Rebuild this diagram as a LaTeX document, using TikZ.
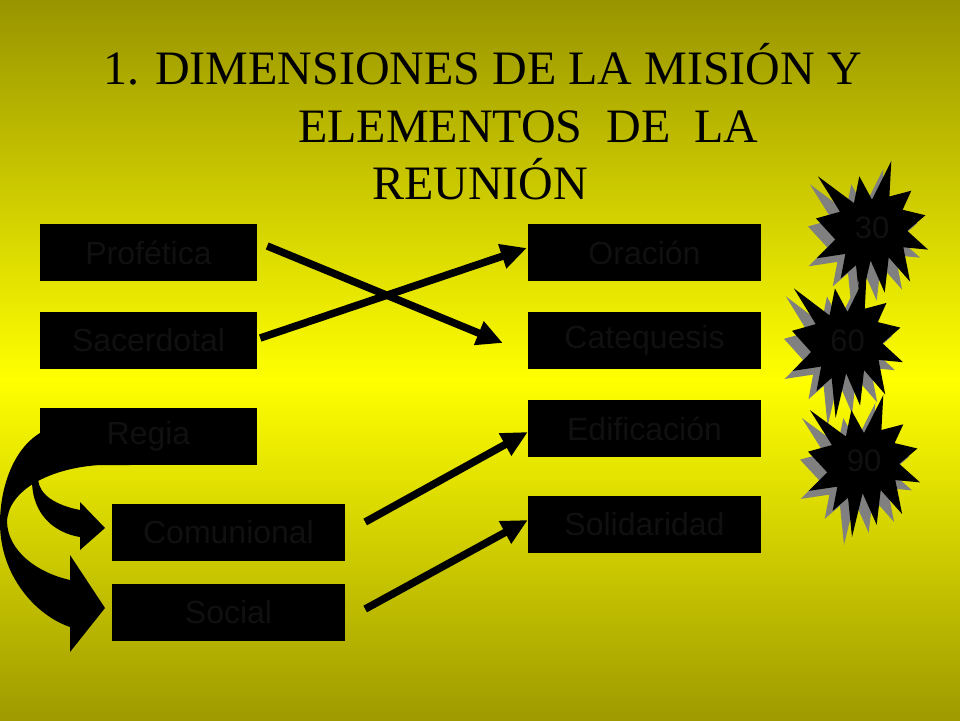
\documentclass[tikz,border=0pt]{standalone}
\usepackage{fontspec}
\setmainfont{Liberation Serif}
\newfontfamily\arialf{Liberation Sans}
\usetikzlibrary{arrows.meta}
\definecolor{oliveTop}{RGB}{152,148,0}
\definecolor{oliveBot}{RGB}{158,154,0}
\definecolor{brightY}{RGB}{255,255,0}
\definecolor{dimtext}{RGB}{16,16,16}
\definecolor{shadowgray}{RGB}{128,128,128}
\def\burstpath{(50,26.85) -- (67.23,0) -- (65.53,24.65) -- (85.09,20.63) -- (77.32,33.87) -- (97.67,37.67) -- (81.51,48.50) -- (100,61.53) -- (77.95,59.92) -- (84.00,83.77) -- (64.91,66.93) -- (61.33,91.38) -- (48.76,69.14) -- (39.28,100) -- (35.72,72.35) -- (22.05,81.56) -- (26.24,64.52) -- (0.63,67.53) -- (17.23,54.51) -- (0,39.88) -- (21.42,35.26) -- (1.71,10.63) -- (33.85,29.26) -- (38.67,10.63) -- cycle}
\newcommand{\myburst}[6]{%
  \begin{scope}[shift={(#1-8,#2+8)}, xscale=#3/100, yscale=#4/100]
    \fill[shadowgray] \burstpath;
  \end{scope}
  \begin{scope}[shift={(#1,#2)}, xscale=#3/100, yscale=#4/100]
    \fill[black] \burstpath;
  \end{scope}
  \node[startxt] (#5) at (#1+#3/2,#2+#4/2-5) {#6};
}
\tikzset{
  box/.style={fill=black, draw=none, inner sep=0pt, text=dimtext,
    font=\arialf\fontsize{32}{38}\selectfont, minimum height=57pt},
  narrowbox/.style={box, minimum width=217pt},
  widebox/.style={box, minimum width=233pt},
  startxt/.style={text=dimtext, inner sep=0pt, font=\arialf\fontsize{31}{36}\selectfont},
  titletxt/.style={anchor=base west, inner sep=0pt, font=\fontsize{48}{56}\selectfont},
  arr/.style={line width=7.5pt, -{Triangle[length=26pt,width=24pt]}},
}
\begin{document}
\begin{tikzpicture}[x=1pt,y=-1pt]
\useasboundingbox (0,0) rectangle (960,720);
\shade[top color=oliveTop, bottom color=brightY] (0,0) rectangle (960,380);
\shade[top color=brightY, bottom color=oliveBot] (0,380) rectangle (960,720);

% title
\node[titletxt] (t1) at (103,84) {1. DIMENSIONES DE LA MISIÓN Y};
\node[titletxt] (t2) at (298,142) {ELEMENTOS\ \ DE\ \ LA};
\node[titletxt] (t3) at (372,199) {REUNIÓN};

% curved block arrows from Regia
\fill[black] (100,465) .. controls (50,468) and (8,490) .. (7,522)
  .. controls (8,550) and (35,572) .. (70,580)
  -- (70,555) -- (105,608) -- (70,652) -- (70,627)
  .. controls (35,615) and (0,575) .. (0,523)
  .. controls (0,490) and (12,450) .. (40,433)
  -- (130,425) -- (130,465) -- cycle;
\fill[black] (32,475) -- (32,480) .. controls (32,515) and (55,533) .. (80,537)
  -- (80,550) -- (105,528) -- (80,502) -- (80,510)
  .. controls (55,505) and (40,495) .. (38,480) -- (38,475) -- cycle;

% boxes
\node[narrowbox] (prof) at (148.5,252.5) {Profética};
\node[narrowbox] (sac) at (148.5,340.5) {Sacerdotal};
\node[narrowbox] (regia) at (148.5,436.5) {Regia};
\node[widebox] (comu) at (228.5,532.5) {Comunional};
\node[widebox] (social) at (228.5,612.5) {Social};
\node[widebox] (ora) at (644.5,252.5) {Oración};
\node[widebox] (cate) at (644.5,340.5) {Catequesis};
\node[widebox] (edif) at (644.5,428.5) {Edificación};
\node[widebox] (soli) at (644.5,524.5) {Solidaridad};

% straight arrows
\draw[arr] ([shift={(10,-6.5)}]prof.east) -- ([shift={(-25,2.5)}]cate.west);
\draw[arr] ([shift={(3,-2.5)}]sac.east) -- ([shift={(-1,-4.5)}]ora.west);
\draw[arr] ([shift={(20,-10.5)}]comu.east) -- ([shift={(0,3.5)}]edif.west);
\draw[arr] ([shift={(20,-3.5)}]social.east) -- ([shift={(0,-4.5)}]soli.west);

% starbursts
\myburst{816}{161}{112}{144}{s30}{30}
\myburst{792}{273}{111}{145}{s60}{60}
\myburst{808}{395}{112}{142}{s90}{90}
\end{tikzpicture}
\end{document}
